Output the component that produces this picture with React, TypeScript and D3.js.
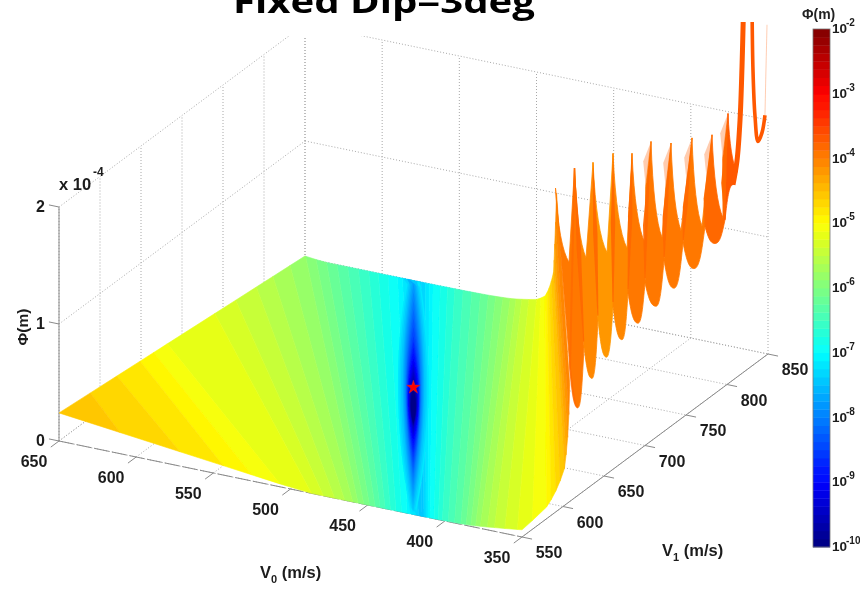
import React from "react";
import * as d3 from "d3";

const W = 860, H = 589;

// axis ticks
const v0Ticks = [650, 600, 550, 500, 450, 400, 350];
const v1Ticks = [550, 600, 650, 700, 750, 800, 850];
const zTicks = [0, 1, 2]; // x 1e-4
const barExponents = [-2, -3, -4, -5, -6, -7, -8, -9, -10];

// iso-level lines of log10(Phi), left of the valley: V0 where each one meets V1=550 and V1=850
const leftLevels = [-7.5, -7, -6.6, -6.2, -5.85, -5.7, -5.45, -5.24, -5.125, -4.875, -4.75, -4.625, -4.6];
const leftFront = [414.8, 424.5, 436, 446.5, 457, 461, 474, 487, 506.8, 543.7, 571.6, 610.5, 650];
const leftBack = [577, 590, 610, 632, 651, 668, 700.6, 747, 832, 866, 905, 920, 940];
// height of the surface (1e-4 m) at the corner V0=650/V1=550, at V0=650/V1=850, and where it reaches the floor at V1=550
const cornerNear = 0.24, cornerFar = 0.017, floorV0 = 490;

// the same, right of the valley
const rightLevels = [-7.5, -7, -6.6, -6.2, -5.75, -5.45, -5.25, -5, -4.5, -4.2, -4];
const rightFront = [414.8, 409.6, 401, 388, 377, 366, 353, 334, 321, 318, 317];
const rightBack = [577, 567, 552, 534, 517, 508, 500, 494.5, 489, 488, 487];

// deep closed contours around the minimum
const lensLevels = [-7.125, -7.5, -8, -8.5, -9, -9.5, -10];
const lensHalfLength = [180, 154, 114, 78, 52, 33, 19];
const lensHalfWidth = [10, 7, 4.9, 3.9, 3.2, 2.2, 1.4];
const lensCentre = [715, 715, 710, 701, 698, 695, 687];
const starV0 = 507, starV1 = 713;

// ripple crests and troughs along the V0=350 edge (Phi in 1e-4 m)
const crestV1 = [590.9, 614, 636.6, 661, 684.1, 707.3, 731.7, 757.3, 781.7, 801.2];
const crestPhi = [2.77, 2.82, 2.75, 2.7, 2.58, 2.56, 2.42, 2.33, 2.23, 2.31];
const shoulderV1 = [607.3, 628, 653.7, 678, 700, 720.7, 743.9, 769.5, 795.1, 812.2];
const shoulderPhi = [2.05, 1.98, 1.89, 1.8, 1.73, 1.67, 1.61, 1.51, 1.45, 1.75];
const notchV1 = [608.5, 625.6, 642.7, 661, 679.3, 700, 723.2, 746.3, 773.2, 797.6, 814.6];
const notchPhi = [1.14, 1.23, 1.37, 1.39, 1.41, 1.39, 1.46, 1.49, 1.49, 1.42, 2.1];
const troughV1 = [618.3, 635.4, 653, 672, 691.5, 713.4, 735.4, 759.8, 785.4, 807.3];
const troughPhi = [0.75, 0.91, 1.0, 1.05, 1.09, 1.12, 1.16, 1.2, 1.28, 1.67];
const rippleLevel = [-4.0, -4.1, -4.2, -4.1, -4, -3.95, -3.95, -3.95, -3.85, -3.7];
const ridgeLevel = -3.78;
const frayedFrom = 5; // crests from this one on end in a frayed, semi-transparent tip

// last resonances, leaving the top of the plot
const tubeAV1 = [807.3, 812.2, 815.9, 818.3, 820.1];
const tubeAPhi = [1.67, 1.85, 2.18, 2.62, 3.1];
const tubeBV1 = [830.5, 831.7, 834.1, 837.8, 842.7, 846.3];
const tubeBPhi = [3.1, 2.52, 2.12, 1.88, 1.93, 2.06];
const tubeCV1 = [846.3, 847.5, 848.8];
const tubeCPhi = [2.06, 2.44, 2.82];

// projection of the 3-D box
const ox = 59, oy = 441;
const v0X = d3.scaleLinear().domain([650, 350]).range([0, 463]);
const v0Y = d3.scaleLinear().domain([650, 350]).range([0, 96]);
const v1X = d3.scaleLinear().domain([550, 850]).range([0, 246]);
const v1Y = d3.scaleLinear().domain([550, 850]).range([0, -183]);
const zY = d3.scaleLinear().domain([0, 2]).range([0, -234]);
type Pt = [number, number];
const proj = (v0: number, v1: number, z: number): Pt => [
  ox + v0X(v0) + v1X(v1),
  oy + v0Y(v0) + v1Y(v1) + zY(z),
];

// jet colormap, 64 steps over 1e-10..1e-2
const jet = d3.scaleLinear<string>()
  .domain([0, 0.125, 0.375, 0.625, 0.875, 1])
  .range(["#000080", "#0000ff", "#00ffff", "#ffff00", "#ff0000", "#800000"]);
const bandOf = (L: number) => Math.floor(((L + 10) / 8) * 64);
const bandColor = (k: number) => jet((Math.max(0, Math.min(63, k)) + 0.5) / 64);
const levelColor = (L: number) => bandColor(bandOf(L));
const barY = d3.scaleLog().domain([1e-10, 1e-2]).range([547, 29]);

type V = { v0: number; v1: number; L: number };
function clip(poly: V[], inside: (v: V) => boolean, limit: number): V[] {
  const out: V[] = [];
  poly.forEach((a, i) => {
    const b = poly[(i + 1) % poly.length];
    const ia = inside(a), ib = inside(b);
    if (ia) out.push(a);
    if (ia !== ib) {
      const t = (limit - a.v0) / (b.v0 - a.v0);
      out.push({ v0: limit, v1: a.v1 + t * (b.v1 - a.v1), L: a.L + t * (b.L - a.L) });
    }
  });
  return out;
}
const leftHeight = (v: V) => {
  const h = cornerNear
    + ((cornerFar - cornerNear) * (v.v1 - 550)) / 300
    - (cornerNear * (650 - v.v0)) / (650 - floorV0);
  return Math.max(0, h);
};
const rightHeight = (v: V) => Math.pow(10, v.L + 4);

function fanBands(levels: number[], front: number[], back: number[], height: (v: V) => number) {
  const f = d3.scaleLinear().domain(levels).range(front);
  const b = d3.scaleLinear().domain(levels).range(back);
  const lo = levels[0], hi = levels[levels.length - 1];
  const out: { d: string; color: string }[] = [];
  for (let k = bandOf(lo); k <= bandOf(hi); k++) {
    const L1 = Math.max(lo, -10 + k / 8);
    const L2 = Math.min(hi, -10 + (k + 1) / 8);
    if (L2 <= L1) continue;
    let q: V[] = [
      { v0: f(L1), v1: 550, L: L1 },
      { v0: b(L1), v1: 850, L: L1 },
      { v0: b(L2), v1: 850, L: L2 },
      { v0: f(L2), v1: 550, L: L2 },
    ];
    q = clip(q, (v) => v.v0 >= 350, 350);
    if (q.length) q = clip(q, (v) => v.v0 <= 650, 650);
    if (q.length < 3) continue;
    const d = d3.line()(q.map((v) => proj(v.v0, v.v1, height(v)))) + "Z";
    out.push({ d, color: bandColor(k) });
  }
  return out;
}
function lensBands() {
  const len = d3.scaleLinear().domain(lensLevels).range(lensHalfLength);
  const wid = d3.scaleLinear().domain(lensLevels).range(lensHalfWidth);
  const cen = d3.scaleLinear().domain(lensLevels).range(lensCentre);
  const out: { d: string; color: string }[] = [];
  for (let k = bandOf(-7.125) - 1; k >= 0; k--) {
    const L = -10 + (k + 1) / 8;
    const side = (sign: number) =>
      d3.range(25).map((i) => {
        const s = -1 + (i / 24) * 2;
        const v1 = cen(L) + len(L) * s * sign;
        const v0 = starV0 + 0.53 * (v1 - starV1) + sign * wid(L) * (1 - s * s);
        return [Math.max(350, Math.min(650, v0)), Math.max(550, Math.min(850, v1))];
      });
    const pts = [...side(1), ...side(-1)].map((v) => proj(v[0], v[1], 0));
    out.push({ d: d3.line()(pts) + "Z", color: bandColor(k) });
  }
  return out;
}

const p = (a: Pt) => `${a[0].toFixed(1)},${a[1].toFixed(1)}`;
const lerp = (a: Pt, b: Pt, t: number): Pt => [a[0] + (b[0] - a[0]) * t, a[1] + (b[1] - a[1]) * t];
// a darker streak that tapers at both ends
function wedge(C: Pt, mid: Pt, E: Pt, half: number) {
  return `M${p(C)}L${p([mid[0] + half, mid[1]])}L${p([E[0] + 0.5, E[1]])}L${p([E[0] - 0.5, E[1]])}L${p([mid[0] - half, mid[1]])}Z`;
}
// sheet k: finger k hangs below the valley between crest k and crest k+1
function ripple(k: number) {
  const prevC = proj(350, crestV1[k], crestPhi[k]);
  const S = proj(350, shoulderV1[k], shoulderPhi[k]);
  const hasNext = k + 1 < crestV1.length;
  const Nr = proj(350, notchV1[k + 1], notchPhi[k + 1]);
  const Nl = proj(350, notchV1[k], notchPhi[k]);
  const B = proj(350, troughV1[k], troughPhi[k]);
  const ctrl: Pt = [prevC[0] + 0.25 * (S[0] - prevC[0]), prevC[1] + 0.78 * (S[1] - prevC[1])];
  const c1: Pt = [Nr[0] + 0.3 * (B[0] - Nr[0]), Nr[1] + 0.6 * (B[1] - Nr[1])];
  const c2: Pt = [B[0] + 0.5 * (Nr[0] - B[0]), B[1]];
  const c3: Pt = [B[0] + 0.5 * (Nl[0] - B[0]), B[1]];
  const c4: Pt = [Nl[0] + 0.3 * (B[0] - Nl[0]), Nl[1] + 0.6 * (B[1] - Nl[1])];
  let top = "";
  let ridge = "";
  let fringe = "";
  if (hasNext) {
    const C = proj(350, crestV1[k + 1], crestPhi[k + 1]);
    const Q = proj(350, crestV1[k + 1] - 6.5, crestPhi[k + 1] - 0.35);
    const Qt = proj(350, crestV1[k + 1] - 9.5, crestPhi[k + 1] - 0.12);
    const frayed = k + 1 >= frayedFrom;
    top = frayed ? `L${p(Q)}L${p(C)}` : `L${p(C)}`;
    ridge = frayed
      ? wedge(C, lerp(Q, Nr, 0.4), lerp(Q, Nr, 0.95), 2.4)
      : wedge(C, lerp(C, Nr, 0.45), lerp(C, Nr, 0.97), 2.2);
    if (frayed) fringe = `M${p(C)}L${p(Qt)}L${p(Q)}Z`;
  }
  const body = `M${p(Nl)}L${p(prevC)}Q${p(ctrl)} ${p(S)}${top}L${p(Nr)}C${p(c1)} ${p(c2)} ${p(B)}C${p(c3)} ${p(c4)} ${p(Nl)}Z`;
  const leftEdge = k === 0 ? `M${p(proj(350, crestV1[1], crestPhi[1]))}L${p(Nl)}C${p(c4)} ${p(c3)} ${p(B)}` : "";
  return { body, ridge, fringe, leftEdge, color: levelColor(rippleLevel[k]) };
}

const tube = d3.line<Pt>().curve(d3.curveCatmullRom);
const tubePath = (v1s: number[], phis: number[]) =>
  tube(v1s.map((v, i) => proj(350, v, phis[i]))) as string;

const segs = (a: Pt, b: Pt) => ({ x1: a[0], y1: a[1], x2: b[0], y2: b[1] });

export default function App() {
  const gridLines = [
    ...v0Ticks.map((v) => segs(proj(v, 550, 0), proj(v, 850, 0))),
    ...v1Ticks.map((v) => segs(proj(650, v, 0), proj(350, v, 0))),
    ...v0Ticks.map((v) => segs(proj(v, 850, 0), proj(v, 850, 2))),
    ...v1Ticks.map((v) => segs(proj(650, v, 0), proj(650, v, 2))),
    ...zTicks.map((z) => segs(proj(650, 850, z), proj(350, 850, z))),
    ...zTicks.map((z) => segs(proj(650, 550, z), proj(650, 850, z))),
  ];
  const left = fanBands(leftLevels, leftFront, leftBack, leftHeight);
  const right = fanBands(rightLevels, rightFront, rightBack, rightHeight);
  const lens = lensBands();
  const ripples = crestV1.map((_, k) => ripple(k));
  const star = proj(starV0, starV1, 0);
  const tickFont = { fontFamily: "Liberation Sans", fontWeight: 700, fontSize: 16, fill: "#1c1c1c" };
  const axisColor = "#8a8a8a";
  const ridgeColor = levelColor(ridgeLevel);
  const tubeColor = levelColor(-3.66);

  return (
    <svg width={W} height={H} viewBox={`0 0 ${W} ${H}`}
      style={{ position: "absolute", left: 0, top: 0, display: "block", background: "#fff" }}>
      <defs>
        <filter id="soft" filterUnits="userSpaceOnUse" x={0} y={0} width={W} height={H}>
          <feGaussianBlur stdDeviation={0.65} />
        </filter>
        <clipPath id="gridClip"><rect x={0} y={36} width={W} height={H} /></clipPath>
        <clipPath id="topClip"><rect x={0} y={22} width={W} height={H} /></clipPath>
      </defs>
      <g filter="url(#soft)">
        <rect x={0} y={0} width={W} height={H} fill="#fff" />
        <text x={384} y={13} textAnchor="middle" textLength={302} lengthAdjust="spacingAndGlyphs"
          fontFamily="Open Sans" fontWeight={700} fontSize={33} fill="#000">Fixed Dip=3deg</text>

        <g clipPath="url(#gridClip)" stroke="#a8a8a8" strokeWidth={1} strokeDasharray="1 2">
          {gridLines.map((l, i) => <line key={i} {...l} />)}
        </g>

        <g stroke={axisColor} fill="none">
          <line {...segs(proj(650, 550, 0), proj(350, 550, 0))} strokeDasharray="15 3" />
          <line {...segs(proj(350, 550, 0), proj(350, 850, 0))} />
          <line {...segs(proj(650, 550, 0), proj(650, 550, 2))} />
          {v0Ticks.map((v) => <line key={v} {...segs(proj(v, 550, 0), proj(v, 540, 0))} />)}
          {v1Ticks.map((v) => <line key={v} {...segs(proj(350, v, 0), proj(343.5, v, 0))} />)}
          {zTicks.map((z) => <line key={z} {...segs(proj(650, 550, z), proj(656.5, 550, z))} />)}
        </g>

        <g strokeWidth={0.6}>
          {left.map((b, i) => <path key={i} d={b.d} fill={b.color} stroke={b.color} />)}
          {right.map((b, i) => <path key={i} d={b.d} fill={b.color} stroke={b.color} />)}
          {lens.map((b, i) => <path key={i} d={b.d} fill={b.color} stroke="none" />)}
        </g>
        <path d={d3.symbol().type(d3.symbolStar).size(58)() as string}
          transform={`translate(${star[0]},${star[1]})`} fill="#ff0000" stroke="#c03040" strokeWidth={0.4} />

        <g clipPath="url(#topClip)">
          {ripples.map((r, k) => (
            <path key={k} d={r.body} fill={r.color} stroke={r.color} strokeWidth={0.8} />
          ))}
          {ripples.map((r, k) => r.fringe && (
            <path key={k} d={r.fringe} fill="#ff9a60" opacity={0.5} />
          ))}
          {ripples.map((r, k) => r.ridge && (
            <path key={k} d={r.ridge} fill={ridgeColor} opacity={0.95} />
          ))}
          {ripples.map((r, k) => r.leftEdge && (
            <path key={k} d={r.leftEdge} fill="none" stroke={ridgeColor} strokeWidth={2} opacity={0.7} />
          ))}
          <path d={tubePath(tubeAV1, tubeAPhi)} fill="none" stroke={tubeColor} strokeWidth={5} />
          <path d={tubePath(tubeBV1, tubeBPhi)} fill="none" stroke={tubeColor} strokeWidth={3.6} />
          <path d={tubePath(tubeCV1, tubeCPhi)} fill="none" stroke={tubeColor} strokeWidth={1} opacity={0.3} />
        </g>

        <g {...tickFont}>
          {v0Ticks.map((v) => {
            const a = proj(v, 550, 0);
            return <text key={v} x={a[0] - 25} y={a[1] + 26} textAnchor="middle">{v}</text>;
          })}
          {v1Ticks.map((v) => {
            const a = proj(350, v, 0);
            return <text key={v} x={a[0] + 27} y={a[1] + 21} textAnchor="middle">{v}</text>;
          })}
          {zTicks.map((z) => {
            const a = proj(650, 550, z);
            return <text key={z} x={45} y={a[1] + 5} textAnchor="end">{z}</text>;
          })}
          <text x={59} y={190} fontSize={16.5}>x 10</text>
          <text x={93} y={176} fontSize={12}>-4</text>
          <text transform="translate(28,327) rotate(-90)" textAnchor="middle" fontSize={15.5}>Φ(m)</text>
          <text x={260} y={578} fontSize={16.5}>V<tspan fontSize={11} dy={5}>0</tspan><tspan dy={-5}> (m/s)</tspan></text>
          <text x={662} y={556} fontSize={16.5}>V<tspan fontSize={11} dy={5}>1</tspan><tspan dy={-5}> (m/s)</tspan></text>
        </g>

        <g>
          {d3.range(64).map((k) => {
            const y0 = barY(Math.pow(10, -10 + (k + 1) / 8));
            const y1 = barY(Math.pow(10, -10 + k / 8));
            return <rect key={k} x={813} y={y0} width={17} height={y1 - y0 + 0.4} fill={bandColor(k)} />;
          })}
          <rect x={813} y={29} width={17} height={518} fill="none" stroke="#777" strokeWidth={0.8} />
          <text x={802} y={19} fontFamily="Liberation Sans" fontSize={14} fontWeight={700} fill="#222">Φ(m)</text>
          {barExponents.map((e) => (
            <g key={e} fontFamily="Liberation Sans" fontWeight={700} fill="#1c1c1c">
              <text x={832} y={barY(Math.pow(10, e)) + 4} fontSize={13.5}>10</text>
              <text x={846} y={barY(Math.pow(10, e)) - 3} fontSize={10}>{e}</text>
            </g>
          ))}
        </g>
      </g>
    </svg>
  );
}
